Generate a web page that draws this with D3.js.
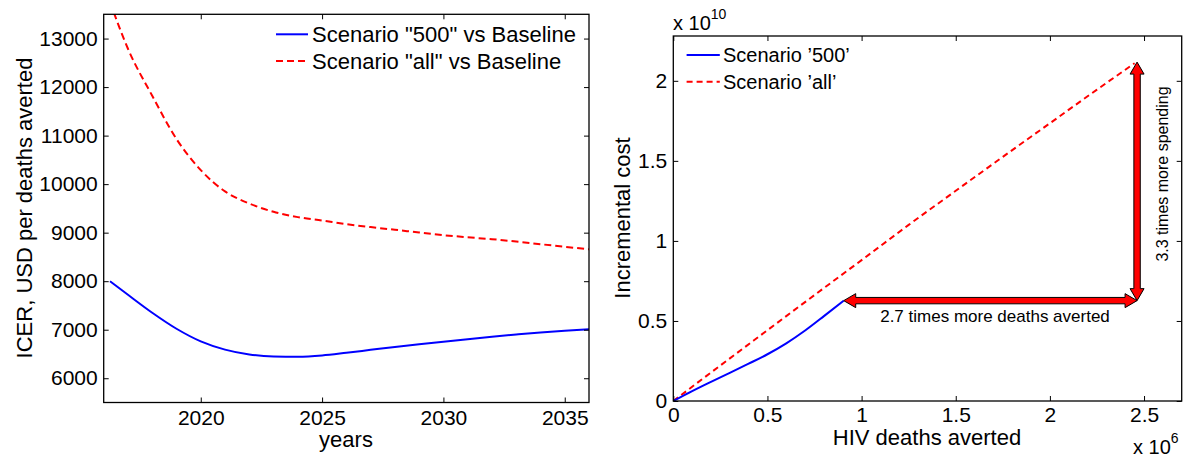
<!DOCTYPE html>
<html>
<head>
<meta charset="utf-8">
<script src="https://cdn.jsdelivr.net/npm/d3@7"></script>
<style>
body { margin: 0; background: #fff; }
text { font-family: "Liberation Sans", Arial, Helvetica, sans-serif; fill: #000; }
</style>
</head>
<body>
<script>
// panneau gauche : ICER par annee
const years    = [2016.26, 2017, 2018, 2019, 2020, 2021, 2022, 2023, 2024, 2025, 2026,
                  2027, 2028, 2029, 2030, 2031, 2032, 2033, 2034, 2035, 2036];
const icer500  = [8000, 7720, 7350, 7020, 6760, 6590, 6490, 6450, 6445, 6470, 6525,
                  6585, 6645, 6700, 6752, 6803, 6855, 6902, 6945, 6980, 7010];
const icerAll  = [13750, 12790, 11820, 10930, 10290, 9850, 9600, 9430, 9320, 9250, 9175,
                  9115, 9060, 9003, 8948, 8905, 8865, 8818, 8762, 8710, 8656];
const yearTicks = [2020, 2025, 2030, 2035];
const icerTicks = [6000, 7000, 8000, 9000, 10000, 11000, 12000, 13000];
const leftLegend = ['Scenario "500" vs Baseline', 'Scenario "all" vs Baseline'];

// panneau droit : cout incremental vs deces evites
const averted500 = [0, 0.1e6, 0.2e6, 0.3e6, 0.4e6, 0.5e6, 0.6e6, 0.7e6, 0.8e6, 0.905e6];
const cost500    = [0, 0.062e10, 0.12e10, 0.176e10, 0.233e10, 0.292e10, 0.36e10, 0.44e10, 0.53e10, 0.627e10];
const avertedAll = [0, 0.25e6, 0.5e6, 0.75e6, 1.0e6, 1.25e6, 1.5e6, 1.75e6, 2.0e6, 2.25e6, 2.45e6];
const costAll    = [0, 0.222e10, 0.442e10, 0.662e10, 0.88e10, 1.10e10, 1.313e10, 1.525e10, 1.735e10, 1.945e10, 2.11e10];
const avertedTicks = [0, 0.5e6, 1e6, 1.5e6, 2e6, 2.5e6];
const costTicks    = [0, 0.5e10, 1e10, 1.5e10, 2e10];
const rightLegend  = ['Scenario \u2019500\u2019', 'Scenario \u2019all\u2019'];

// fleches
const arrowDeaths = [0.905e6, 2.463e6];   // fleche horizontale, a cout 0.627e10
const arrowCost   = [0.627e10, 2.117e10]; // fleche verticale, a 2.463e6 deces
const arrowLabels = ['2.7 times more deaths averted', '3.3 times more spending'];

const W = 1190, H = 457;
const FS = 21;   // graduations
const FL = 22;   // titres d'axes
const svg = d3.select("body").append("svg")
    .attr("width", W).attr("height", H);

const defs = svg.append("defs");

function cadre(x, y, id) {
    const [x0, x1] = x.range(), [y0, y1] = y.range();
    defs.append("clipPath").attr("id", id)
        .append("rect").attr("x", x0).attr("y", y1).attr("width", x1 - x0).attr("height", y0 - y1);
}

function axes(x, y, xt, yt, fx, fy, padX) {
    const [x0, x1] = x.range(), [y0, y1] = y.range();
    const bas = svg.append("g").attr("transform", `translate(0,${y0})`)
        .call(d3.axisBottom(x).tickValues(xt).tickFormat(fx).tickSizeInner(-5).tickSizeOuter(0).tickPadding(padX));
    const gauche = svg.append("g").attr("transform", `translate(${x0},0)`)
        .call(d3.axisLeft(y).tickValues(yt).tickFormat(fy).tickSizeInner(-5).tickSizeOuter(0).tickPadding(6));
    svg.append("g").attr("transform", `translate(0,${y1})`)
        .call(d3.axisTop(x).tickValues(xt).tickFormat("").tickSizeInner(-5).tickSizeOuter(0));
    svg.append("g").attr("transform", `translate(${x1},0)`)
        .call(d3.axisRight(y).tickValues(yt).tickFormat("").tickSizeInner(-5).tickSizeOuter(0));
    [bas, gauche].forEach(g => g.attr("font-size", FS).attr("font-family", null));
    svg.selectAll(".domain").remove();
    svg.selectAll(".tick line").attr("stroke", "#000").attr("stroke-width", 1);
    svg.append("rect")
        .attr("x", x0).attr("y", y1).attr("width", x1 - x0).attr("height", y0 - y1)
        .attr("fill", "none").attr("stroke", "#000").attr("stroke-width", 1.3);
}

// ---------- panneau gauche
const xL = d3.scaleLinear().domain([2016, 2036]).range([103.7, 589]);
const yL = d3.scaleLinear().domain([5500, 13500]).range([402.5, 14.3]);
cadre(xL, yL, "clipL");

const ligneL = v => d3.line().x((d, i) => xL(years[i])).y(d => yL(d)).curve(d3.curveMonotoneX)(v);

svg.append("path").attr("clip-path", "url(#clipL)")
    .attr("d", ligneL(icerAll)).attr("fill", "none")
    .attr("stroke", "#ff0000").attr("stroke-width", 2).attr("stroke-dasharray", "7,4");
svg.append("path").attr("clip-path", "url(#clipL)")
    .attr("d", ligneL(icer500)).attr("fill", "none")
    .attr("stroke", "#0000ff").attr("stroke-width", 2);

axes(xL, yL, yearTicks, icerTicks, d3.format("d"), d3.format("d"), 8);

svg.append("text").attr("x", 346).attr("y", 447).attr("text-anchor", "middle")
    .attr("font-size", FL).text("years");
svg.append("text").attr("transform", "translate(32,208) rotate(-90)").attr("text-anchor", "middle")
    .attr("font-size", FL).text("ICER, USD per deaths averted");

// legende gauche
[["#0000ff", null, 34.3], ["#ff0000", "7,4", 61]].forEach(([c, dash, ly], i) => {
    svg.append("line").attr("x1", 276).attr("x2", 308).attr("y1", ly).attr("y2", ly)
        .attr("stroke", c).attr("stroke-width", 2).attr("stroke-dasharray", dash);
    svg.append("text").attr("x", 312).attr("y", ly + 8).attr("font-size", 22).text(leftLegend[i]);
});

// ---------- panneau droit
const xR = d3.scaleLinear().domain([0, 2.7e6]).range([673.3, 1181.7]);
const yR = d3.scaleLinear().domain([0, 2.28e10]).range([401, 36]);
cadre(xR, yR, "clipR");

svg.append("path").attr("clip-path", "url(#clipR)")
    .attr("d", d3.line().x((d, i) => xR(avertedAll[i])).y(d => yR(d)).curve(d3.curveMonotoneX)(costAll))
    .attr("fill", "none").attr("stroke", "#ff0000").attr("stroke-width", 2).attr("stroke-dasharray", "6,4");
svg.append("path").attr("clip-path", "url(#clipR)")
    .attr("d", d3.line().x((d, i) => xR(averted500[i])).y(d => yR(d)).curve(d3.curveMonotoneX)(cost500))
    .attr("fill", "none").attr("stroke", "#0000ff").attr("stroke-width", 2);

axes(xR, yR, avertedTicks, costTicks, d => d / 1e6, d => d / 1e10, 6.5);

svg.append("text").attr("x", 927).attr("y", 445).attr("text-anchor", "middle")
    .attr("font-size", FL).text("HIV deaths averted");
svg.append("text").attr("transform", "translate(630,218) rotate(-90)").attr("text-anchor", "middle")
    .attr("font-size", FL).text("Incremental cost");

// multiplicateurs
const mult = (x, y, e) => {
    const t = svg.append("text").attr("x", x).attr("y", y).attr("font-size", 20);
    t.append("tspan").text("x 10");
    t.append("tspan").attr("font-size", 14).attr("dy", -11).text(e);
};
mult(673, 30, "10");
mult(1133, 454, "6");

// legende droite
[["#0000ff", null, 55], ["#ff0000", "6,4", 81.7]].forEach(([c, dash, ly], i) => {
    svg.append("line").attr("x1", 686.6).attr("x2", 719.8).attr("y1", ly).attr("y2", ly)
        .attr("stroke", c).attr("stroke-width", 2).attr("stroke-dasharray", dash);
    svg.append("text").attr("x", 723).attr("y", ly + 7.3).attr("font-size", 20).text(rightLegend[i]);
});

// fleches a double pointe
function fleche(xa, ya, xb, yb) {
    const dx = xb - xa, dy = yb - ya, L = Math.hypot(dx, dy);
    const ux = dx / L, uy = dy / L, nx = -uy, ny = ux;
    const e = 3.2, t = 7, h = 12;
    const p = (s, n) => [xa + ux * s + nx * n, ya + uy * s + ny * n];
    const pts = [p(0, 0), p(h, t), p(h, e), p(L - h, e), p(L - h, t), p(L, 0),
                 p(L - h, -t), p(L - h, -e), p(h, -e), p(h, -t)];
    svg.append("path").attr("d", d3.line()(pts) + "Z")
        .attr("fill", "#ff0000").attr("stroke", "#000").attr("stroke-width", 1);
}
fleche(xR(arrowDeaths[0]), yR(arrowCost[0]), xR(arrowDeaths[1]), yR(arrowCost[0]));
fleche(xR(arrowDeaths[1]), yR(arrowCost[0]), xR(arrowDeaths[1]), yR(arrowCost[1]));

svg.append("text").attr("x", 995).attr("y", 322).attr("text-anchor", "middle")
    .attr("font-size", 17).text(arrowLabels[0]);
svg.append("text").attr("transform", "translate(1168,174) rotate(-90)").attr("text-anchor", "middle")
    .attr("font-size", 16).text(arrowLabels[1]);
</script>
</body>
</html>
